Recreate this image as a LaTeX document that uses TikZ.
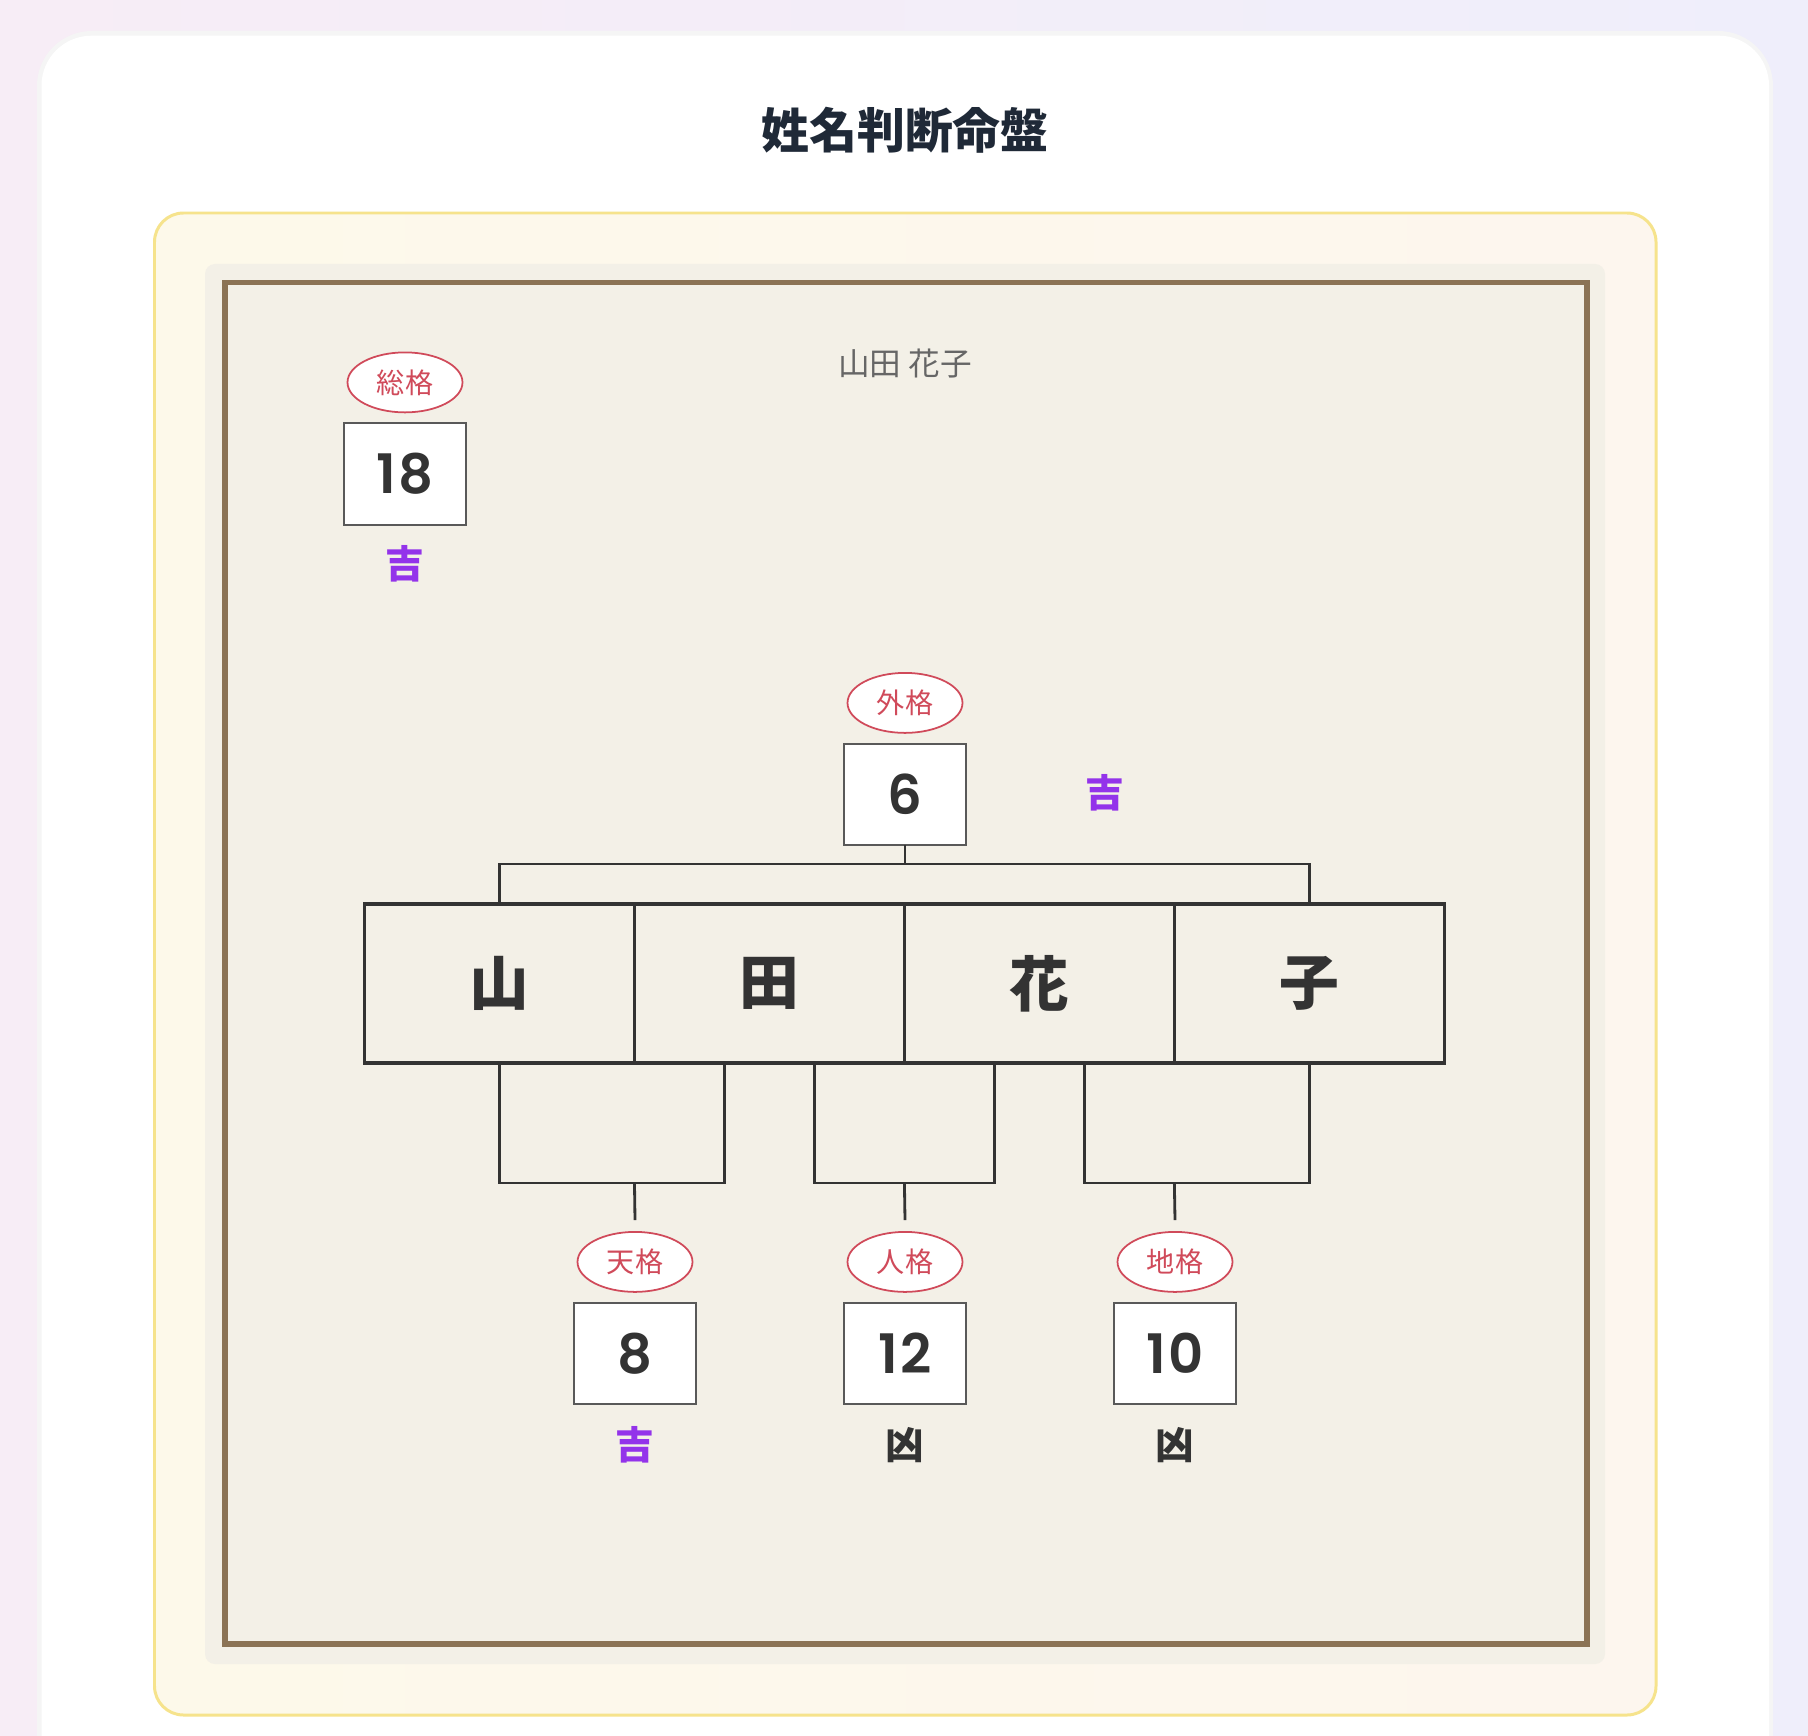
\documentclass[tikz,border=0pt]{standalone}
\usepackage{fontspec}
\setmainfont{Noto Sans CJK JP}
\newfontfamily\numfont{Poppins}[UprightFont=* SemiBold, LetterSpace=3]
\usetikzlibrary{shapes.geometric,positioning,calc}
\definecolor{bgleft}{HTML}{F7EDF6}
\definecolor{bgright}{HTML}{EFEEFB}
\definecolor{panelfill}{HTML}{FDF9EA}
\definecolor{panelpeach}{HTML}{FDF6EE}
\definecolor{panelline}{HTML}{F6E38C}
\definecolor{boardfill}{HTML}{F3F0E7}
\definecolor{framebrown}{HTML}{8B7355}
\definecolor{inkgray}{HTML}{333333}
\definecolor{sealred}{HTML}{D04A5A}
\definecolor{goodpurple}{HTML}{9333EA}
\definecolor{titleink}{HTML}{1F2937}

\begin{document}
\begin{tikzpicture}[
    x=0.02cm, y=-0.02cm,
    link/.style={draw=inkgray, line width=1.6pt},
    charcell/.style={rectangle, draw=inkgray, line width=2pt, minimum width=5.4cm, minimum height=3.18cm, outer sep=0pt, text=inkgray, font=\bfseries\fontsize{34}{40}\selectfont},
    numbox/.style={rectangle, draw=black!65, fill=white, line width=1.1pt, minimum width=2.44cm, minimum height=2.03cm, outer sep=0pt, text=inkgray, font=\numfont\fontsize{31}{37}\selectfont},
    seal/.style={ellipse, draw=sealred, fill=white, line width=1pt, minimum width=2.3cm, minimum height=1.2cm, inner sep=0pt, text=sealred, font=\fontsize{16}{19}\selectfont},
    good/.style={text=goodpurple, font=\bfseries\fontsize{22}{26}\selectfont},
    bad/.style={text=inkgray, font=\bfseries\fontsize{22}{26}\selectfont}
]

% Page and card
\clip (0,0) rectangle (1808,1736);
\fill[left color=bgleft, right color=bgright] (0,0) rectangle (1808,1736);
\fill[black!4, rounded corners=1.1cm] (37,31) rectangle (1773,1800);
\fill[white, rounded corners=1cm] (41.5,35.7) rectangle (1769,1800);
\node[text=titleink, font=\bfseries\fontsize{27.3}{33}\selectfont] (title) at (905,130) {姓名判断命盤};

% Board
\path[draw=panelline, line width=1.7pt, left color=panelfill, right color=panelpeach, rounded corners=0.58cm] (154.5,213) rectangle (1656,1715);
\fill[boardfill, rounded corners=0.2cm] (205,264) rectangle (1605,1664);
\draw[framebrown, line width=3.4pt] (225,282.5) rectangle (1587,1644);
\node[text=black!60, font=\fontsize{18}{21}\selectfont] (fullname) at (905,364) {山田 花子};

% Name characters
\node[charcell] (c1) at (499.5,983.5) {山};
\node[charcell, right=0pt of c1] (c2) {田};
\node[charcell, right=0pt of c2] (c3) {花};
\node[charcell, right=0pt of c3] (c4) {子};

% Total
\node[numbox] (sou) at (405,474) {18};
\node[seal, above=0.2cm of sou] (soul) {総格};
\node[good] (souf) at (405,564) {吉};

% Outer
\node[numbox] (gai) at (905,794.5) {6};
\node[seal, above=0.2cm of gai] (gail) {外格};
\node[good] (gaif) at (1105,793) {吉};

% Heaven, person, earth
\node[numbox] (ten) at (635,1353.5) {8};
\node[seal, above=0.2cm of ten] (tenl) {天格};
\node[good] (tenf) at (635,1445) {吉};

\node[numbox] (jin) at (905,1353.5) {12};
\node[seal, above=0.2cm of jin] (jinl) {人格};
\node[bad] (jinf) at (905,1445) {凶};

\node[numbox] (chi) at (1175,1353.5) {10};
\node[seal, above=0.2cm of chi] (chil) {地格};
\node[bad] (chif) at (1175,1445) {凶};

% Top bracket
\coordinate (topbar) at (905,864);
\draw[link] (gai.south) -- (topbar);
\draw[link] (c1.north) -- (c1.north |- topbar) -- (c4.north |- topbar) -- (c4.north);

% Bottom brackets
\coordinate (bar) at (905,1183);
\coordinate (ta) at ($(c2.south west)!1/3!(c2.south east)$);
\coordinate (jl) at ($(c2.south west)!2/3!(c2.south east)$);
\coordinate (jr) at ($(c3.south west)!1/3!(c3.south east)$);
\coordinate (ca) at ($(c3.south west)!2/3!(c3.south east)$);
\draw[link] (c1.south) -- (c1.south |- bar) -- (ta |- bar) -- (ta);
\draw[link] (jl) -- (jl |- bar) -- (jr |- bar) -- (jr);
\draw[link] (ca) -- (ca |- bar) -- (c4.south |- bar) -- (c4.south);
\draw[link] (c1.south east |- bar) -- ($(tenl.north)+(0,-11)$);
\draw[link] (c2.south east |- bar) -- ($(jinl.north)+(0,-11)$);
\draw[link] (c3.south east |- bar) -- ($(chil.north)+(0,-11)$);

\end{tikzpicture}
\end{document}
